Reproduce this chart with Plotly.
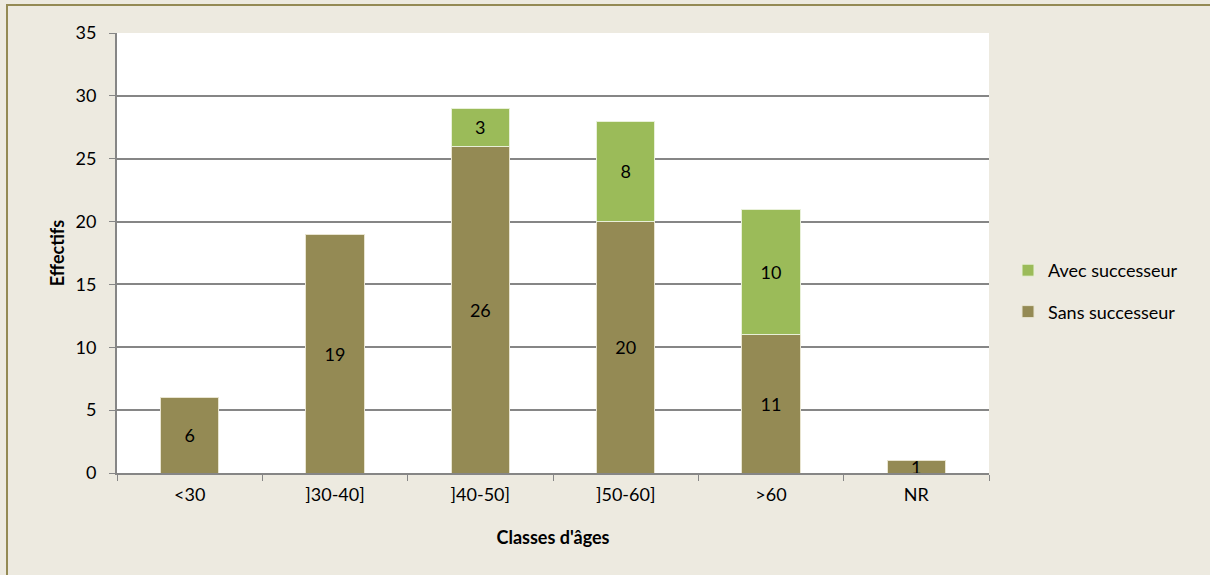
import plotly.graph_objects as go

categories = ["<30", "]30-40]", "]40-50]", "]50-60]", ">60", "NR"]
sans_successeur = [6, 19, 26, 20, 11, 1]
avec_successeur = [None, None, 3, 8, 10, None]
y_ticks = [0, 5, 10, 15, 20, 25, 30, 35]

FONT = "Lato"
FS = 18
L, R, T, B = 117, 221, 33, 102
W, H = 1210, 575
pw, ph = W - L - R, H - T - B

def px_to_paper_x(px):
    return (px - L) / pw

def px_to_paper_y(py):
    return (H - B - py) / ph

fig = go.Figure()
fig.add_trace(go.Bar(
    name="Sans successeur", x=categories, y=sans_successeur, legendgroup="s", legendrank=2,
    marker=dict(color="#948A54", line=dict(color="#E8E4D0", width=1)),
    text=[str(v) for v in sans_successeur], textposition="inside", textangle=0,
    insidetextanchor="middle", textfont=dict(color="black", size=FS, family=FONT),
    constraintext="none", width=0.4,
))
fig.add_trace(go.Bar(
    name="Avec successeur", x=categories, y=avec_successeur, legendgroup="a", legendrank=1,
    marker=dict(color="#9BBB59", line=dict(color="#E8F0D8", width=1)),
    text=["" if v is None else str(v) for v in avec_successeur], textposition="inside",
    textangle=0, insidetextanchor="middle",
    textfont=dict(color="black", size=FS, family=FONT),
    constraintext="none", width=0.4,
))

fig.update_layout(
    barmode="stack",
    width=W, height=H,
    margin=dict(l=L, r=R, t=T, b=B, autoexpand=False),
    paper_bgcolor="#EDEAE0",
    plot_bgcolor="white",
    font=dict(family=FONT, size=FS, color="black"),
    uniformtext=dict(mode="show", minsize=FS),
    showlegend=True,
    legend=dict(
        traceorder="grouped", x=px_to_paper_x(1008), y=px_to_paper_y(252),
        xanchor="left", yanchor="top", bgcolor="rgba(0,0,0,0)",
        font=dict(family=FONT, size=FS), tracegroupgap=15, itemwidth=30,
    ),
    xaxis=dict(
        type="category", tickson="boundaries", ticks="outside", ticklen=6,
        tickcolor="#868686", showline=True, linecolor="#868686", linewidth=2,
        showgrid=False, ticklabelstandoff=4,
        title=dict(text="<b>Classes d'âges</b>", font=dict(size=FS, family=FONT), standoff=28),
        tickfont=dict(size=FS, family=FONT),
    ),
    yaxis=dict(
        range=[0, 35], tickvals=y_ticks, ticks="outside", ticklen=6,
        tickcolor="#868686", showline=True, linecolor="#868686", linewidth=2,
        showgrid=True, gridcolor="#868686", gridwidth=1.5, zeroline=False,
        ticklabelstandoff=9,
        title=dict(text="<b>Effectifs</b>", font=dict(size=FS, family=FONT), standoff=6),
        tickfont=dict(size=FS, family=FONT),
    ),
    shapes=[dict(
        type="rect", xref="paper", yref="paper",
        x0=px_to_paper_x(7), x1=px_to_paper_x(1216),
        y0=px_to_paper_y(581), y1=px_to_paper_y(5),
        line=dict(color="#948A54", width=2), fillcolor="rgba(0,0,0,0)", layer="below",
    )],
)

fig.write_html("out.html", config={"displayModeBar": False},
               post_script="document.body.style.margin='0';")
